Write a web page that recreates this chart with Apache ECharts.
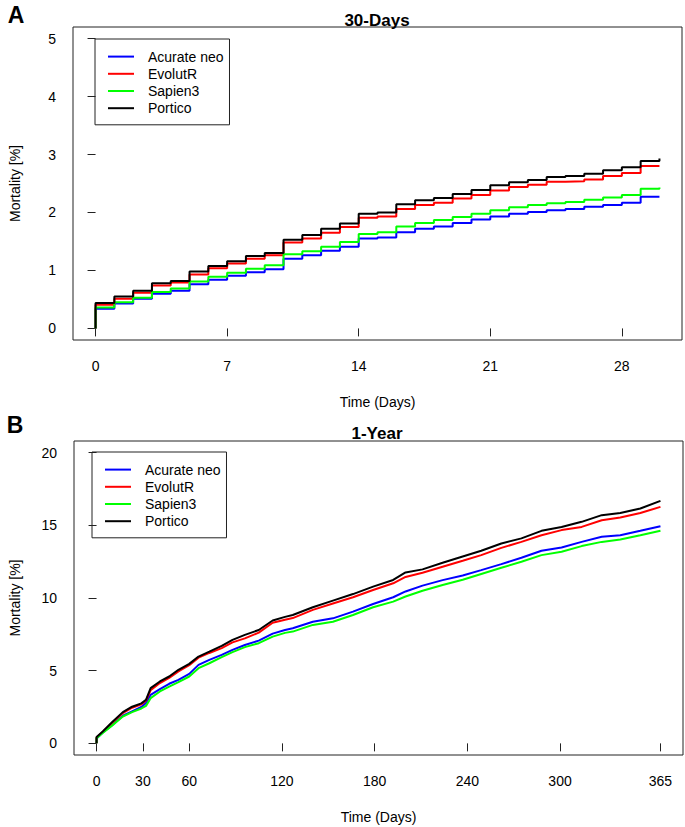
<!DOCTYPE html>
<html>
<head>
<meta charset="utf-8">
<script src="https://cdn.jsdelivr.net/npm/echarts@6/dist/echarts.min.js"></script>
<style>
html,body{margin:0;padding:0;background:#fff;}
#chart{width:685px;height:827px;}
</style>
</head>
<body>
<div id="chart"></div>
<script>
// ---- data ----
const seriesNames = ['Acurate neo', 'EvolutR', 'Sapien3', 'Portico'];
const seriesColors = ['#0000FF', '#FF0000', '#00FF00', '#000000'];

// Panel A: 30-day (step functions)
const daysA = [0, 0, 1, 2, 3, 4, 5, 6, 7, 8, 9, 10, 11, 12, 13, 14, 15, 16, 17, 18, 19, 20, 21, 22, 23, 24, 25, 26, 27, 28, 29, 30];
const acurateA = [0, 0.34, 0.43, 0.51, 0.60, 0.65, 0.76, 0.84, 0.91, 0.97, 1.02, 1.20, 1.26, 1.34, 1.41, 1.55, 1.57, 1.66, 1.72, 1.76, 1.82, 1.88, 1.93, 1.98, 2.01, 2.04, 2.06, 2.10, 2.13, 2.17, 2.27, 2.28];
const evolutA  = [0, 0.41, 0.51, 0.615, 0.74, 0.79, 0.93, 1.04, 1.12, 1.20, 1.26, 1.48, 1.55, 1.65, 1.75, 1.91, 1.93, 2.06, 2.13, 2.17, 2.24, 2.30, 2.38, 2.44, 2.48, 2.53, 2.54, 2.57, 2.63, 2.68, 2.80, 2.81];
const sapienA  = [0, 0.36, 0.45, 0.53, 0.63, 0.69, 0.81, 0.89, 0.96, 1.03, 1.09, 1.28, 1.33, 1.41, 1.49, 1.63, 1.66, 1.76, 1.82, 1.87, 1.92, 1.98, 2.04, 2.09, 2.13, 2.16, 2.18, 2.22, 2.26, 2.30, 2.41, 2.43];
const porticoA = [0, 0.44, 0.55, 0.65, 0.78, 0.82, 0.98, 1.075, 1.16, 1.25, 1.30, 1.53, 1.61, 1.72, 1.81, 1.98, 2.00, 2.14, 2.21, 2.25, 2.32, 2.39, 2.47, 2.52, 2.56, 2.61, 2.63, 2.67, 2.73, 2.78, 2.89, 2.93];

// Panel B: 1-year
const daysB = [0, 0, 4, 10, 17, 23, 29, 32, 35, 41, 47, 53, 60, 66, 73, 81, 88, 96, 105, 114, 122, 127, 140, 153, 166, 179, 192, 200, 211, 224, 237, 249, 262, 275, 288, 301, 314, 327, 339, 352, 365];
const acurateB = [0, 0.34, 0.75, 1.25, 1.9, 2.2, 2.5, 2.77, 3.34, 3.73, 4.10, 4.37, 4.78, 5.40, 5.74, 6.09, 6.43, 6.77, 7.07, 7.55, 7.80, 7.92, 8.37, 8.60, 9.06, 9.59, 10.05, 10.45, 10.85, 11.23, 11.55, 11.92, 12.33, 12.77, 13.25, 13.48, 13.86, 14.21, 14.32, 14.62, 14.94];
const evolutB  = [0, 0.41, 0.79, 1.40, 2.08, 2.45, 2.68, 2.95, 3.65, 4.15, 4.50, 4.95, 5.38, 5.90, 6.22, 6.55, 6.95, 7.22, 7.62, 8.30, 8.50, 8.62, 9.18, 9.62, 10.05, 10.55, 11.01, 11.45, 11.74, 12.15, 12.56, 12.95, 13.45, 13.86, 14.32, 14.67, 14.89, 15.35, 15.54, 15.85, 16.27];
const sapienB  = [0, 0.36, 0.72, 1.22, 1.85, 2.15, 2.40, 2.58, 3.11, 3.57, 3.91, 4.21, 4.60, 5.17, 5.51, 5.93, 6.28, 6.62, 6.89, 7.34, 7.60, 7.69, 8.15, 8.37, 8.83, 9.36, 9.75, 10.1, 10.5, 10.9, 11.25, 11.65, 12.08, 12.49, 12.95, 13.18, 13.57, 13.86, 14.03, 14.32, 14.62];
const porticoB = [0, 0.44, 0.82, 1.45, 2.15, 2.52, 2.75, 3.0, 3.8, 4.26, 4.60, 5.06, 5.47, 5.97, 6.31, 6.71, 7.12, 7.46, 7.80, 8.45, 8.70, 8.83, 9.36, 9.82, 10.27, 10.78, 11.24, 11.76, 11.97, 12.42, 12.86, 13.25, 13.75, 14.10, 14.62, 14.89, 15.24, 15.70, 15.85, 16.16, 16.68];

// tick labels
const xTicksA = [0, 7, 14, 21, 28];
const yTicksA = [0, 1, 2, 3, 4, 5];
const xTicksB = [0, 30, 60, 120, 180, 240, 300, 365];
const yTicksB = [0, 5, 10, 15, 20];

const titleA = '30-Days';
const titleB = '1-Year';
const xName = 'Time (Days)';
const yName = 'Mortality [%]';

// ---- chart ----
const FONT = '"Liberation Sans", Arial, sans-serif';
const chart = echarts.init(document.getElementById('chart'), null, {renderer: 'svg'});

function zip(xs, ys) { return xs.map((x, i) => [x, ys[i]]); }

function xAxisCfg(grid, min, max, ticks) {
  return {
    type: 'value', gridIndex: grid, min: min, max: max,
    name: xName, nameLocation: 'middle', nameGap: 55,
    nameTextStyle: {fontSize: 14, color: '#000', fontFamily: FONT},
    axisLine: {show: false},
    axisTick: {show: true, inside: false, length: 8, customValues: ticks, lineStyle: {color: '#222', width: 1}},
    axisLabel: {show: true, customValues: ticks, margin: 19, fontSize: 14, color: '#000', fontFamily: FONT},
    splitLine: {show: false}
  };
}
function yAxisCfg(grid, min, max, ticks, gap) {
  return {
    type: 'value', gridIndex: grid, min: min, max: max,
    name: yName, nameLocation: 'middle', nameGap: gap, nameRotate: 90,
    nameTextStyle: {fontSize: 14, color: '#000', fontFamily: FONT},
    axisLine: {show: false},
    axisTick: {show: true, inside: false, length: 8, customValues: ticks, lineStyle: {color: '#222', width: 1}},
    axisLabel: {show: true, customValues: ticks, margin: 17, fontSize: 14, color: '#000', fontFamily: FONT},
    splitLine: {show: false}
  };
}

const valsA = [acurateA, evolutA, sapienA, porticoA];
const valsB = [acurateB, evolutB, sapienB, porticoB];

const series = [];
seriesNames.forEach((n, i) => {
  series.push({
    name: n, type: 'line', xAxisIndex: 0, yAxisIndex: 0, step: 'end',
    data: zip(daysA, valsA[i]), symbol: 'none', color: seriesColors[i],
    lineStyle: {width: 2, color: seriesColors[i]}, silent: true
  });
});
seriesNames.forEach((n, i) => {
  series.push({
    name: n, type: 'line', xAxisIndex: 1, yAxisIndex: 1,
    data: zip(daysB, valsB[i]), symbol: 'none', color: seriesColors[i],
    lineStyle: {width: 2, color: seriesColors[i]}, silent: true
  });
});

function legendCfg(left, top) {
  return {
    orient: 'vertical', left: left, top: top, data: seriesNames,
    icon: 'rect', itemWidth: 26, itemHeight: 2, itemGap: 0,
    padding: [9, 6, 8, 13], borderColor: '#222', borderWidth: 1,
    selectedMode: false,
    textStyle: {fontSize: 14, lineHeight: 17.2, color: '#000', fontFamily: FONT, padding: [0, 0, 0, 9]}
  };
}

chart.setOption({
  animation: false,
  backgroundColor: '#fff',
  grid: [
    {left: 72, top: 27, width: 610, height: 313, show: true, borderColor: '#222', borderWidth: 1, containLabel: false},
    {left: 70, top: 441, width: 613, height: 314, show: true, borderColor: '#222', borderWidth: 1, containLabel: false}
  ],
  xAxis: [xAxisCfg(0, -1.2, 31.2, xTicksA), xAxisCfg(1, -14.6, 379.6, xTicksB)],
  yAxis: [yAxisCfg(0, -0.2, 5.2, yTicksA, 51), yAxisCfg(1, -0.8, 20.8, yTicksB, 52)],
  legend: [legendCfg(95, 39), legendCfg(92, 452)],
  graphic: [
    {type: 'text', x: 16, y: 15, style: {text: 'A', font: 'bold 23px ' + FONT, fill: '#000', textAlign: 'center', textVerticalAlign: 'middle'}},
    {type: 'text', x: 15, y: 425, style: {text: 'B', font: 'bold 23px ' + FONT, fill: '#000', textAlign: 'center', textVerticalAlign: 'middle'}},
    {type: 'text', x: 377, y: 20, style: {text: titleA, font: 'bold 17px ' + FONT, fill: '#000', textAlign: 'center', textVerticalAlign: 'middle'}},
    {type: 'text', x: 377, y: 433, style: {text: titleB, font: 'bold 17px ' + FONT, fill: '#000', textAlign: 'center', textVerticalAlign: 'middle'}}
  ],
  series: series
});
</script>
</body>
</html>
